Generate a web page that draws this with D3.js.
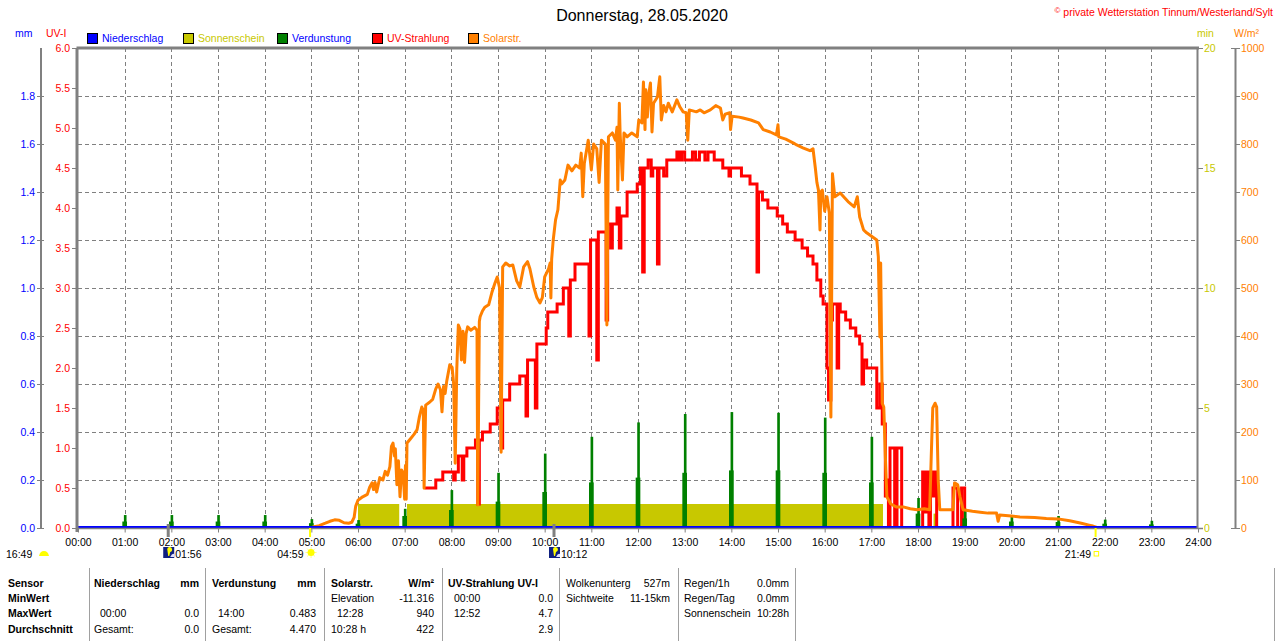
<!DOCTYPE html>
<html>
<head>
<meta charset="utf-8">
<script src="https://cdn.jsdelivr.net/npm/d3@7"></script>
<style>
body { margin: 0; background: #fff; }
svg { display: block; }
text { font-family: "Liberation Sans", Arial, sans-serif; font-size: 10.5px; }
.title { font-size: 16px; }
.bold { font-weight: bold; }
</style>
</head>
<body>
<div id="chart"><svg class="diagram" width="1280" height="641"></svg></div>
<script>

// ---- data ----
var dayTitle = "Donnerstag, 28.05.2020";
var copyrightSign = "\u00a9";
var copyright = "private Wetterstation Tinnum/Westerland/Sylt";

var hourTicks = d3.range(0, 25);

var legendNames = ["Niederschlag", "Sonnenschein", "Verdunstung", "UV-Strahlung", "Solarstr."];
var legendColors = ["#0000ff", "#c8c800", "#008000", "#ff0000", "#ff8000"];
var legendTextColors = ["#0000ff", "#c8c800", "#0000ff", "#ff0000", "#ff8000"];

var mmTicks = [0, 0.2, 0.4, 0.6, 0.8, 1.0, 1.2, 1.4, 1.6, 1.8];
var uvTicks = [0, 0.5, 1, 1.5, 2, 2.5, 3, 3.5, 4, 4.5, 5, 5.5, 6];
var minTicks = [0, 5, 10, 15, 20];
var solarTicks = [0, 100, 200, 300, 400, 500, 600, 700, 800, 900, 1000];

var rainTimes = ["00:00", "24:00"];
var rainValues = [0, 0];

var sunStart = ["06:00", "07:03", "18:20"];
var sunEnd = ["06:53", "17:15", "18:24"];
var sunValues = [1.0, 1.0, 0.6];

var verdTimes = ["01:00", "02:00", "03:00", "04:00", "05:00", "06:00", "07:00", "08:00", "09:00", "10:00", "11:00", "12:00",
    "13:00", "14:00", "15:00", "16:00", "17:00", "18:00", "19:00", "20:00", "21:00", "22:00", "23:00"];
var verdPeak = [0.054, 0.054, 0.054, 0.054, 0.037, 0.033, 0.08, 0.158, 0.23, 0.31, 0.38, 0.44,
    0.475, 0.483, 0.48, 0.46, 0.38, 0.125, 0.08, 0.054, 0.05, 0.035, 0.03];
var verdShoulder = [0.027, 0.027, 0.027, 0.027, 0.02, 0.018, 0.05, 0.075, 0.11, 0.15, 0.19, 0.21,
    0.23, 0.24, 0.24, 0.23, 0.19, 0.06, 0.04, 0.027, 0.025, 0.018, 0.015];

var uvTimes = ["07:26", "07:40", "07:49", "08:03", "08:05", "08:09", "08:14", "08:16", "08:20", "08:31", "08:34", "08:36",
    "08:40", "08:50", "08:59", "09:04", "09:06", "09:15", "09:28", "09:36", "09:38", "09:48", "09:50", "10:02", "10:04",
    "10:16", "10:24", "10:31", "10:33", "10:39", "10:57", "10:59", "11:07", "11:09", "11:19", "11:21", "11:25", "11:27",
    "11:33", "11:36", "11:38", "11:46", "11:59", "12:03", "12:06", "12:08", "12:13", "12:17", "12:19", "12:25", "12:27",
    "12:33", "12:37", "12:50", "12:53", "12:56", "13:00", "13:10", "13:14", "13:19", "13:26", "13:30", "13:38", "13:49",
    "13:57", "13:59", "14:13", "14:24", "14:33", "14:35", "14:40", "14:47", "14:59", "15:06", "15:12", "15:22", "15:31",
    "15:38", "15:45", "15:50", "15:55", "15:58", "16:03", "16:05", "16:08", "16:10", "16:16", "16:18", "16:20", "16:27",
    "16:33", "16:40", "16:45", "16:48", "16:50", "16:54", "17:07", "17:11", "17:14", "17:18", "17:20", "17:22", "17:24",
    "17:30", "17:33", "17:39", "18:06", "18:09", "18:11", "18:14", "18:16", "18:19", "18:21", "18:24", "18:45", "18:51",
    "18:56", "19:00"];
var uvValues = [0.5, 0.6, 0.7, 0.6, 0.7, 0.9, 0.6, 0.9, 1.0, 1.1, 0.3, 1.1,
    1.2, 1.3, 1.5, 1.0, 1.6, 1.8, 1.9, 1.4, 2.1, 1.5, 2.3, 2.5, 2.7,
    2.8, 3.0, 2.4, 3.1, 3.3, 2.4, 3.6, 2.1, 3.7, 2.6, 3.8, 3.5, 3.8,
    4.0, 3.5, 3.9, 4.2, 4.3, 4.5, 3.2, 4.5, 4.6, 4.4, 4.5, 3.3, 4.5,
    4.4, 4.6, 4.7, 4.6, 4.7, 4.6, 4.7, 4.6, 4.7, 4.6, 4.7, 4.6, 4.5,
    4.4, 4.5, 4.4, 4.3, 3.2, 4.2, 4.1, 4.0, 3.9, 3.8, 3.7, 3.6, 3.5,
    3.4, 3.3, 3.1, 2.9, 2.8, 2.0, 1.6, 2.6, 2.8, 2.0, 2.8, 2.7, 2.6,
    2.5, 2.4, 2.3, 1.8, 2.1, 2.0, 1.5, 1.8, 1.3, 0.4, 0.6, 0, 1.0,
    0, 1.0, 0, 0.7, 0.2, 0.7, 0, 0.7, 0.4, 0.7, 0, 0.5, 0,
    0.5, 0];

var solarTimes = ["05:00", "05:02", "05:10", "05:18", "05:24", "05:30", "05:36", "05:42", "05:48", "05:52", "05:55", "05:57",
    "06:00", "06:06", "06:12", "06:15", "06:18", "06:20", "06:22", "06:24", "06:28", "06:32", "06:35", "06:38", "06:41",
    "06:43", "06:45", "06:47", "06:48", "06:50", "06:52", "06:54", "06:56", "06:58", "07:00", "07:01", "07:02", "07:03",
    "07:07", "07:12", "07:16", "07:19", "07:22", "07:24", "07:25", "07:27", "07:32", "07:36", "07:40", "07:43", "07:46",
    "07:48", "07:50", "07:52", "07:54", "07:58", "08:01", "08:03", "08:05", "08:07", "08:09", "08:11", "08:13", "08:15",
    "08:17", "08:19", "08:21", "08:25", "08:30", "08:33", "08:34", "08:36", "08:37", "08:40", "08:43", "08:48", "08:52",
    "08:56", "08:59", "09:02", "09:04", "09:06", "09:10", "09:15", "09:19", "09:24", "09:28", "09:33", "09:38", "09:41",
    "09:46", "09:50", "09:54", "09:57", "10:00", "10:05", "10:07", "10:08", "10:09", "10:11", "10:14", "10:17", "10:20",
    "10:22", "10:26", "10:30", "10:35", "10:40", "10:45", "10:47", "10:49", "10:51", "10:56", "11:00", "11:03", "11:07",
    "11:10", "11:13", "11:18", "11:20", "11:22", "11:27", "11:31", "11:33", "11:34", "11:36", "11:37", "11:40", "11:42",
    "11:46", "11:52", "11:59", "12:01", "12:05", "12:07", "12:09", "12:10", "12:12", "12:14", "12:16", "12:18", "12:20",
    "12:25", "12:28", "12:30", "12:33", "12:36", "12:39", "12:44", "12:50", "12:54", "12:58", "13:02", "13:04", "13:06",
    "13:15", "13:20", "13:25", "13:33", "13:40", "13:46", "13:49", "13:52", "13:58", "13:59", "14:01", "14:10", "14:15",
    "14:25", "14:35", "14:41", "14:50", "14:58", "15:00", "15:01", "15:10", "15:20", "15:24", "15:32", "15:41", "15:45",
    "15:48", "15:50", "15:52", "15:54", "15:55", "15:57", "16:00", "16:03", "16:06", "16:08", "16:10", "16:13", "16:20",
    "16:30", "16:38", "16:42", "16:45", "16:50", "16:54", "17:07", "17:09", "17:11", "17:12", "17:14", "17:16", "17:18",
    "17:20", "17:25", "17:32", "17:41", "17:50", "17:59", "18:08", "18:15", "18:17", "18:19", "18:22", "18:24", "18:26",
    "18:28", "18:35", "18:45", "18:47", "18:51", "18:54", "18:58", "19:10", "19:20", "19:30", "19:41", "19:43", "19:45",
    "20:00", "20:11", "20:30", "20:45", "21:00", "21:15", "21:30", "21:40", "21:45", "21:50", "21:54"];
var solarValues = [0, 2, 5, 10, 14, 17, 16, 11, 10, 12, 22, 45,
    58, 65, 70, 85, 94, 80, 95, 75, 105, 100, 118, 110, 128,
    170, 177, 150, 165, 90, 140, 65, 121, 115, 60, 130, 60, 177,
    185, 195, 205, 232, 252, 245, 83, 256, 262, 268, 290, 300, 288,
    242, 295, 280, 305, 340, 335, 300, 135, 330, 423, 415, 350, 410,
    345, 405, 419, 412, 418, 412, 48, 430, 440, 452, 460, 465, 490,
    510, 523, 500, 158, 544, 552, 546, 548, 515, 502, 544, 555, 540,
    502, 480, 469, 480, 523, 540, 552, 479, 560, 600, 642, 663, 725,
    717, 725, 756, 744, 756, 750, 781, 690, 760, 808, 746, 800, 790,
    720, 808, 800, 423, 815, 823, 808, 835, 704, 885, 823, 725, 823,
    815, 823, 815, 850, 844, 929, 830, 913, 856, 906, 927, 825, 885,
    898, 940, 850, 880, 867, 885, 867, 892, 877, 867, 865, 808, 871,
    867, 871, 865, 871, 880, 875, 850, 862, 865, 830, 858, 856, 854,
    850, 844, 830, 825, 819, 840, 815, 810, 802, 798, 792, 786, 790,
    750, 720, 704, 621, 700, 704, 660, 690, 656, 231, 738, 690, 698,
    680, 669, 690, 648, 621, 615, 600, 565, 398, 552, 260, 252, 150,
    65, 50, 44, 44, 40, 38, 40, 38, 148, 250, 260, 252, 100,
    38, 38, 38, 94, 90, 65, 38, 35, 33, 31, 31, 14, 27,
    25, 23, 22, 20, 19, 15, 10, 6, 4, 1, 0];

var astroTimes = ["01:56", "04:59", "10:12", "21:49"];
var astroKinds = ["moon", "sun", "moon", "sunset"];
var astroTickColors = ["#808080", "#ffff00", "#808080", "#ffff00"];
var moonRiseLabel = "16:49";

var tableCols = [
    ["Sensor", "MinWert", "MaxWert", "Durchschnitt"],
    ["Niederschlag", "", "00:00", "Gesamt:"],
    ["Verdunstung", "", "14:00", "Gesamt:"],
    ["Solarstr.", "Elevation", "12:28", "10:28 h"],
    ["UV-Strahlung UV-I", "00:00", "12:52", ""],
    ["Wolkenunterg", "Sichtweite", "", ""],
    ["Regen/1h", "Regen/Tag", "Sonnenschein", ""]
];
var tableRight = [
    ["", "", "", ""],
    ["mm", "", "0.0", "0.0"],
    ["mm", "", "0.483", "4.470"],
    ["W/m\u00b2", "-11.316", "940", "422"],
    ["", "0.0", "4.7", "2.9"],
    ["527m", "11-15km", "", ""],
    ["0.0mm", "0.0mm", "10:28h", ""]
];

// ---- drawing ----
function toHours(s) {
    var p = s.split(":");
    return +p[0] + (+p[1]) / 60;
}

function drawWeatherChart(mydiv) {
    var div = d3.select("#" + mydiv);
    var svg = div.select("svg");
    svg.margin = {top: 48, right: 1198, bottom: 528, left: 78};
    var m = svg.margin;

    var x = d3.scaleLinear().domain([0, 24]).range([m.left, m.right]);
    var yMm = d3.scaleLinear().domain([0, 2]).range([m.bottom, m.top]);
    var yUv = d3.scaleLinear().domain([0, 6]).range([m.bottom, m.top]);
    var yMin = d3.scaleLinear().domain([0, 20]).range([m.bottom, m.top]);
    var ySolar = d3.scaleLinear().domain([0, 1000]).range([m.bottom, m.top]);

    svg.append("defs").append("clipPath").attr("id", "plotclip")
        .append("rect").attr("x", m.left).attr("y", m.top)
        .attr("width", m.right - m.left).attr("height", m.bottom - m.top + 0.5);

    // title and copyright
    svg.append("text").classed("title", true).attr("x", 642).attr("y", 21)
        .attr("text-anchor", "middle").style("fill", "#000").text(dayTitle);
    var copy = svg.append("text").attr("x", 1273).attr("y", 16).attr("text-anchor", "end")
        .style("fill", "#ff0000");
    copy.append("tspan").attr("dy", -3).style("font-size", "8px").text(copyrightSign);
    copy.append("tspan").attr("dy", 3).text(" " + copyright);

    // legend
    var legendX = [87, 183, 277, 372, 468];
    var legend = svg.append("g").selectAll("g").data(legendNames).enter().append("g")
        .attr("transform", function(d, i) { return "translate(" + legendX[i] + ",33)"; });
    legend.append("rect").attr("x", 0.5).attr("y", 0.5).attr("width", 10).attr("height", 10)
        .style("fill", function(d, i) { return legendColors[i]; }).style("stroke", "#000");
    legend.append("text").attr("x", 15).attr("y", 9)
        .style("fill", function(d, i) { return legendTextColors[i]; }).text(function(d) { return d; });

    // unit labels
    svg.append("text").attr("x", 15).attr("y", 37).style("fill", "#0000ff").text("mm");
    svg.append("text").attr("x", 46).attr("y", 37).style("fill", "#ff0000").text("UV-I");
    svg.append("text").attr("x", 1197).attr("y", 37).style("fill", "#c8c800").text("min");
    svg.append("text").attr("x", 1234).attr("y", 37).style("fill", "#ff8000").text("W/m\u00b2");

    // grid
    var grid = svg.append("g").style("stroke", "#808080").style("stroke-dasharray", "4,3");
    grid.selectAll("line.v").data(hourTicks.slice(1, 24)).enter().append("line")
        .attr("x1", function(d) { return Math.round(x(d)) + 0.5; })
        .attr("x2", function(d) { return Math.round(x(d)) + 0.5; })
        .attr("y1", m.top).attr("y2", m.bottom);
    grid.selectAll("line.h").data(mmTicks.slice(1)).enter().append("line")
        .attr("x1", m.left).attr("x2", m.right)
        .attr("y1", function(d) { return Math.round(yMm(d)) + 0.5; })
        .attr("y2", function(d) { return Math.round(yMm(d)) + 0.5; });

    var plot = svg.append("g").attr("clip-path", "url(#plotclip)");

    // Sonnenschein
    plot.selectAll("rect.sun").data(sunValues).enter().append("rect")
        .attr("x", function(d, i) { return x(toHours(sunStart[i])); })
        .attr("width", function(d, i) { return x(toHours(sunEnd[i])) - x(toHours(sunStart[i])); })
        .attr("y", function(d) { return yMin(d); })
        .attr("height", function(d) { return yMin(0) - yMin(d); })
        .style("fill", "#c8c800");

    // UV-Strahlung
    var uvData = uvTimes.map(function(t, i) { return [toHours(t), uvValues[i]]; });
    plot.append("path").datum(uvData)
        .attr("d", d3.line().curve(d3.curveStepAfter)
            .x(function(d) { return x(d[0]); }).y(function(d) { return yUv(d[1]); }))
        .style("fill", "none").style("stroke", "#ff0000").style("stroke-width", 3);

    // Verdunstung
    var verd = plot.append("g").style("fill", "#008000");
    verd.selectAll("rect.sh").data(verdShoulder).enter().append("rect")
        .attr("x", function(d, i) { return x(toHours(verdTimes[i]) - 3 / 60); })
        .attr("width", function(d, i) { return x(6 / 60) - x(0); })
        .attr("y", function(d) { return yMm(d); })
        .attr("height", function(d) { return yMm(0) - yMm(d); });
    verd.selectAll("rect.pk").data(verdPeak).enter().append("rect")
        .attr("x", function(d, i) { return x(toHours(verdTimes[i]) - 1 / 60); })
        .attr("width", function(d, i) { return x(3.4 / 60) - x(0); })
        .attr("y", function(d) { return yMm(d); })
        .attr("height", function(d) { return yMm(0) - yMm(d); });

    // Solarstrahlung
    var solarData = solarTimes.map(function(t, i) { return [toHours(t), solarValues[i]]; });
    plot.append("path").datum(solarData)
        .attr("d", d3.line().x(function(d) { return x(d[0]); }).y(function(d) { return ySolar(d[1]); }))
        .style("fill", "none").style("stroke", "#ff8000").style("stroke-width", 3)
        .style("stroke-linejoin", "round");

    // Niederschlag
    var rainData = rainTimes.map(function(t, i) { return [toHours(t), rainValues[i]]; });
    plot.append("path").datum(rainData)
        .attr("d", d3.line().x(function(d) { return x(d[0]); }).y(function(d) { return yMm(d[1]) - 1; }))
        .style("fill", "none").style("stroke", "#0000ff").style("stroke-width", 2);

    // frame
    svg.append("line").attr("x1", m.left - 1.5).attr("x2", m.right + 1).attr("y1", m.top).attr("y2", m.top)
        .style("stroke", "#808080").style("stroke-width", 3);
    svg.append("line").attr("x1", m.left - 1).attr("x2", m.left - 1).attr("y1", m.top).attr("y2", m.bottom + 4)
        .style("stroke", "#808080").style("stroke-width", 3);
    svg.append("line").attr("x1", m.right - 0.5).attr("x2", m.right - 0.5).attr("y1", m.top).attr("y2", m.bottom)
        .style("stroke", "#808080").style("stroke-width", 2);

    function styleAxis(g, color) {
        g.select(".domain").remove();
        g.selectAll(".tick line").style("stroke", "#808080");
        g.selectAll(".tick text").style("fill", color)
            .style("font-family", "'Liberation Sans', Arial, sans-serif").style("font-size", "10.5px");
    }

    // mm axis
    var mmAxis = svg.append("g").attr("transform", "translate(44,0)")
        .call(d3.axisLeft(yMm).tickValues(mmTicks).tickFormat(d3.format(".1f")).tickSize(7).tickPadding(2));
    styleAxis(mmAxis, "#0000ff");
    svg.append("line").attr("x1", 41).attr("x2", 41).attr("y1", m.top).attr("y2", m.bottom)
        .style("stroke", "#808080").style("stroke-width", 2);

    // UV axis
    var uvAxis = svg.append("g").attr("transform", "translate(" + (m.left - 1) + ",0)")
        .call(d3.axisLeft(yUv).tickValues(uvTicks).tickFormat(d3.format(".1f")).tickSize(5).tickPadding(2));
    styleAxis(uvAxis, "#ff0000");

    // min axis
    var minAxis = svg.append("g").attr("transform", "translate(" + m.right + ",0)")
        .call(d3.axisRight(yMin).tickValues(minTicks).tickFormat(d3.format("d")).tickSize(5).tickPadding(1));
    styleAxis(minAxis, "#c8c800");

    // W/m2 axis
    var solarAxis = svg.append("g").attr("transform", "translate(1235,0)")
        .call(d3.axisRight(ySolar).tickValues(solarTicks).tickFormat(d3.format("d")).tickSize(5).tickPadding(1));
    styleAxis(solarAxis, "#ff8000");
    svg.append("line").attr("x1", 1235.5).attr("x2", 1235.5).attr("y1", m.top).attr("y2", m.bottom)
        .style("stroke", "#808080").style("stroke-width", 2);
    svg.append("g").selectAll("line").data([0, 1000]).enter().append("line")
        .attr("x1", 1231).attr("x2", 1236)
        .attr("y1", function(d) { return ySolar(d) + 0.5; }).attr("y2", function(d) { return ySolar(d) + 0.5; })
        .style("stroke", "#808080");

    // time axis
    var xAxis = svg.append("g").attr("transform", "translate(0," + (m.bottom + 0.5) + ")")
        .call(d3.axisBottom(x).tickValues(hourTicks)
            .tickFormat(function(d) { return (d < 10 ? "0" : "") + d + ":00"; })
            .tickSize(4).tickPadding(6));
    xAxis.select(".domain").attr("d", "M" + (m.left - 2) + ",0H" + (m.right + 5))
        .style("stroke", "#808080").style("stroke-width", 1.5);
    xAxis.selectAll(".tick line").style("stroke", "#808080");
    xAxis.selectAll(".tick text").style("fill", "#000")
        .style("font-family", "'Liberation Sans', Arial, sans-serif").style("font-size", "10.5px");

    // sun / moon events
    var astro = svg.append("g");
    astro.selectAll("rect.tick").data(astroTimes).enter().append("rect")
        .attr("x", function(d) { return x(toHours(d)) - 1.5; })
        .attr("y", function(d, i) { return astroKinds[i] === "moon" ? m.bottom - 4 : m.bottom; })
        .attr("width", function(d, i) { return astroKinds[i] === "moon" ? 3 : 2; })
        .attr("height", function(d, i) { return astroKinds[i] === "moon" ? 13 : 9; })
        .style("fill", function(d, i) { return astroTickColors[i]; });

    astroTimes.forEach(function(t, i) {
        var cx = x(toHours(t));
        var kind = astroKinds[i];
        if (kind === "moon") {
            astro.append("rect").attr("x", cx - 5).attr("y", 547).attr("width", 11).attr("height", 11)
                .style("fill", "#102080");
            astro.append("path").attr("d", "M" + (cx - 1) + ",549 a2.5,2.5 0 1,1 3,3 l-1,4 h-1 z").style("fill", "#ffff00");
            astro.append("path").attr("d", "M" + (cx + 2) + ",557 q2,-4 4,-3 v3 z").style("fill", "#e0e0ff");
            astro.append("text").attr("x", cx + 7).attr("y", 558).style("fill", "#000").text(t);
        } else if (kind === "sun") {
            var sun = astro.append("g").attr("transform", "translate(" + (cx + 0.5) + ",552.5)");
            sun.selectAll("line").data(d3.range(8)).enter().append("line")
                .attr("x1", 0).attr("y1", 0)
                .attr("x2", function(d) { return 5.5 * Math.cos(d * Math.PI / 4); })
                .attr("y2", function(d) { return 5.5 * Math.sin(d * Math.PI / 4); })
                .style("stroke", "#ffff80");
            sun.append("circle").attr("r", 3.5).style("fill", "#ffff00");
            astro.append("text").attr("x", cx - 7).attr("y", 558).attr("text-anchor", "end").style("fill", "#000").text(t);
        } else {
            astro.append("rect").attr("x", cx - 2).attr("y", 551.5).attr("width", 4.5).attr("height", 4.5)
                .style("fill", "#fff").style("stroke", "#ffff00");
            astro.append("text").attr("x", cx - 5).attr("y", 558).attr("text-anchor", "end").style("fill", "#000").text(t);
        }
    });
    astro.append("text").attr("x", 6).attr("y", 558).style("fill", "#000").text(moonRiseLabel);
    astro.append("path").attr("d", "M39,556 q1,-5 5,-5 q4,0 5,5 z").style("fill", "#ffff00");

    // table
    var colX = [8, 94, 212, 331, 448, 566, 684];
    var colR = [0, 199, 316, 434, 553, 670, 789];
    var rowY = [587, 602, 617, 633];
    var sepX = [89, 205, 324, 442, 559, 678, 795, 1274];
    var table = svg.append("g");
    table.selectAll("line").data(sepX).enter().append("line")
        .attr("x1", function(d) { return d + 0.5; }).attr("x2", function(d) { return d + 0.5; })
        .attr("y1", 568).attr("y2", 641).style("stroke", "#a0a0a0");
    tableCols.forEach(function(col, c) {
        col.forEach(function(txt, r) {
            if (!txt) { return; }
            var isHead = (c === 0 || (r === 0 && c < 5));
            var isTime = /^\d\d:\d\d$/.test(txt) && c >= 1 && c <= 4;
            table.append("text").classed("bold", isHead).attr("x", colX[c] + (isTime ? 6 : 0)).attr("y", rowY[r])
                .style("fill", "#000").text(txt);
        });
        tableRight[c].forEach(function(txt, r) {
            if (!txt) { return; }
            table.append("text").classed("bold", r === 0 && c < 5).attr("x", colR[c]).attr("y", rowY[r])
                .attr("text-anchor", "end").style("fill", "#000").text(txt);
        });
    });
}

drawWeatherChart("chart");
</script>
</body>
</html>
